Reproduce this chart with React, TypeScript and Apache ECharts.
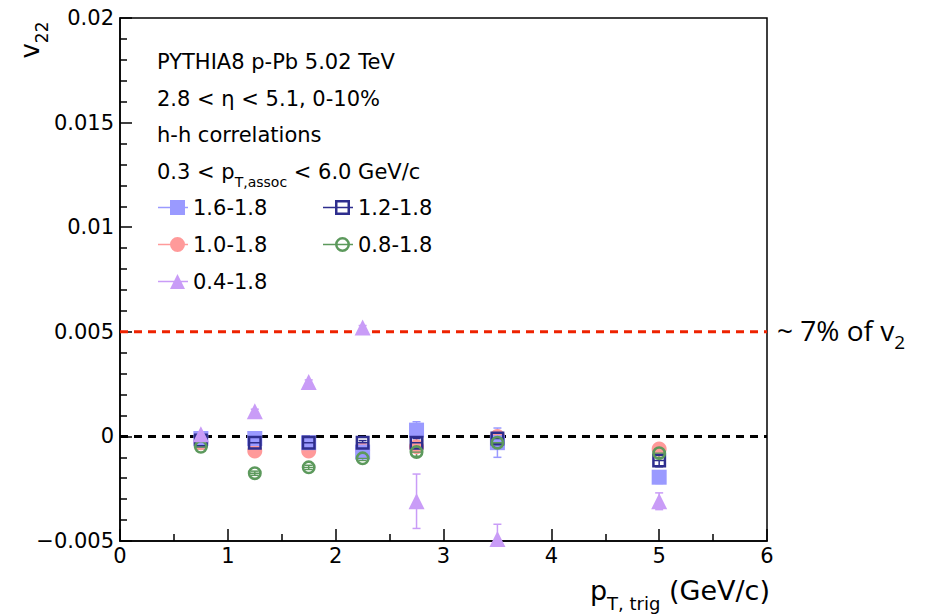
import React, { useEffect, useRef } from "react";
import * as echarts from "echarts";

// ---- data ----
const xPoints = [0.75, 1.25, 1.75, 2.25, 2.75, 3.5, 5.0];
const names = ["1.6-1.8", "1.2-1.8", "1.0-1.8", "0.8-1.8", "0.4-1.8"];
const v16 = [-0.0001, -0.0001, -0.0003, -0.00075, 0.0003, -0.0003, -0.00195];
const e16 = [0.0001, 0.0001, 0.0001, 0.0002, 0.0004, 0.0007, 0.0003];
const v12 = [-0.0002, -0.0003, -0.0003, -0.0003, -0.0003, -0.0001, -0.00115];
const e12 = [0.0001, 0.0001, 0.0001, 0.0001, 0.0002, 0.0002, 0.0003];
const v10 = [-0.0003, -0.0007, -0.0007, -0.00065, -0.0005, 0.0, -0.0006];
const e10 = [0.0001, 0.0001, 0.0001, 0.0001, 0.0002, 0.0002, 0.0002];
const v08 = [-0.0005, -0.00176, -0.00148, -0.00105, -0.00075, -0.0003, -0.0008];
const e08 = [0.0001, 0.0001, 0.0001, 0.0001, 0.0002, 0.0002, 0.0002];
const v04 = [0.0001, 0.0012, 0.0026, 0.0052, -0.0031, -0.0049, -0.0031];
const e04 = [0.0001, 0.0001, 0.0001, 0.0001, 0.0013, 0.0007, 0.0004];
const refLineHigh = 0.005;
const refLineZero = 0;
const xTicks = [0, 1, 2, 3, 4, 5, 6];

const FONT = "DejaVu Sans";

const colors: Record<string, string> = {
  "1.6-1.8": "#9a9aff",
  "1.2-1.8": "#2e2e8e",
  "1.0-1.8": "#ff9a9a",
  "0.8-1.8": "#5c995c",
  "0.4-1.8": "#c99cf7",
};

const symOpenSquare =
  "path://M0,0L14,0L14,14L0,14Z M2.5,2.5L2.5,11.5L11.5,11.5L11.5,2.5Z M2.5,6.3L11.5,6.3L11.5,7.7L2.5,7.7Z";
const symRing =
  "path://M0,7A7,7 0 1,1 14,7A7,7 0 1,1 0,7Z M2.6,7A4.4,4.4 0 1,0 11.4,7A4.4,4.4 0 1,0 2.6,7Z M2.6,6.3L11.4,6.3L11.4,7.7L2.6,7.7Z";

const LINE = "M0,6.75L30,6.75L30,8.25L0,8.25Z";
const legendIcons: Record<string, string> = {
  "1.6-1.8": "path://" + LINE + " M12,0L27,0L27,15L12,15Z",
  "1.2-1.8": "path://" + LINE + " M12,0L27,0L27,15L12,15Z M14.5,2.5L14.5,12.5L24.5,12.5L24.5,2.5Z",
  "1.0-1.8": "path://" + LINE + " M12,7.5A7.5,7.5 0 1,1 27,7.5A7.5,7.5 0 1,1 12,7.5Z",
  "0.8-1.8":
    "path://" + LINE + " M12,7.5A7.5,7.5 0 1,1 27,7.5A7.5,7.5 0 1,1 12,7.5Z M14.5,7.5A5,5 0 1,0 24.5,7.5A5,5 0 1,0 14.5,7.5Z",
  "0.4-1.8": "path://" + LINE + " M19.5,0L27,15L12,15Z",
};

const seriesDefs = [
  { name: "1.0-1.8", v: v10, e: e10, symbol: "circle", size: 15 },
  { name: "1.6-1.8", v: v16, e: e16, symbol: "rect", size: 15 },
  { name: "1.2-1.8", v: v12, e: e12, symbol: symOpenSquare, size: 14 },
  { name: "0.8-1.8", v: v08, e: e08, symbol: symRing, size: 14 },
  { name: "0.4-1.8", v: v04, e: e04, symbol: "triangle", size: 16 },
];

const fmtY = (v: number) => {
  const r = Number(v.toFixed(4));
  if (r === 0) return "0";
  return r < 0 ? "\u2212" + String(Math.abs(r)) : String(r);
};

export default function App() {
  const ref = useRef<HTMLDivElement>(null);
  useEffect(() => {
    if (!ref.current) return;
    const chart = echarts.init(ref.current, undefined, { renderer: "svg" });

    const series: any[] = [
      {
        type: "line",
        name: "ref-high",
        data: [[xTicks[0], refLineHigh], [xTicks[xTicks.length - 1], refLineHigh]],
        symbol: "none",
        lineStyle: { color: "#ee2200", width: 3, type: [8, 6] },
        z: 1,
        silent: true,
      },
      {
        type: "line",
        name: "ref-zero",
        data: [[xTicks[0], refLineZero], [xTicks[xTicks.length - 1], refLineZero]],
        symbol: "none",
        lineStyle: { color: "#000", width: 3, type: [8, 6] },
        z: 1,
        silent: true,
      },
    ];

    seriesDefs.forEach((s) => {
      const c = colors[s.name];
      series.push({
        type: "custom",
        name: "err " + s.name,
        clip: true,
        z: 2,
        silent: true,
        encode: { x: 0, y: [1, 2] },
        data: xPoints.map((x, i) => [x, s.v[i] - s.e[i], s.v[i] + s.e[i]]),
        renderItem: (params: any, api: any) => {
          const x = api.value(0);
          const lo = api.coord([x, api.value(1)]);
          const hi = api.coord([x, api.value(2)]);
          const cap = 4;
          const st = { stroke: c, lineWidth: 1.5 };
          return {
            type: "group",
            children: [
              { type: "line", shape: { x1: lo[0], y1: lo[1], x2: hi[0], y2: hi[1] }, style: st },
              { type: "line", shape: { x1: lo[0] - cap, y1: lo[1], x2: lo[0] + cap, y2: lo[1] }, style: st },
              { type: "line", shape: { x1: hi[0] - cap, y1: hi[1], x2: hi[0] + cap, y2: hi[1] }, style: st },
            ],
          };
        },
      });
    });

    seriesDefs.forEach((s, k) => {
      series.push({
        type: "scatter",
        name: s.name,
        symbol: s.symbol,
        symbolSize: s.size,
        itemStyle: { color: colors[s.name], opacity: 1 },
        z: 3 + k,
        data: xPoints.map((x, i) => [x, s.v[i]]),
      });
    });

    const legendCommon = {
      orient: "vertical",
      padding: 0,
      itemWidth: 30,
      itemHeight: 15,
      itemGap: 14,
      selectedMode: false,
      textStyle: { fontFamily: FONT, fontSize: 21, color: "#000", lineHeight: 23 },
    };

    const headerStyle = { fontFamily: FONT, fontSize: 21, fill: "#000" };

    chart.setOption({
      animation: false,
      backgroundColor: "#fff",
      grid: {
        left: 120,
        right: 161,
        top: 18,
        bottom: 75,
        show: true,
        borderColor: "#000",
        borderWidth: 1.5,
        backgroundColor: "transparent",
      },
      xAxis: {
        type: "value",
        min: xTicks[0],
        max: xTicks[xTicks.length - 1],
        interval: 1,
        axisLine: { onZero: false, lineStyle: { color: "#000", width: 1.5 } },
        axisTick: { inside: true, length: 12, lineStyle: { color: "#000", width: 1.5 } },
        minorTick: { show: true, splitNumber: 2, length: 7, lineStyle: { color: "#000", width: 1.5 } },
        splitLine: { show: false },
        axisLabel: { fontFamily: FONT, fontSize: 21, color: "#000", margin: 4 },
      },
      yAxis: {
        type: "value",
        min: -0.005,
        max: 0.02,
        interval: 0.005,
        axisLine: { onZero: false, lineStyle: { color: "#000", width: 1.5 } },
        axisTick: { inside: true, length: 12, lineStyle: { color: "#000", width: 1.5 } },
        minorTick: { show: true, splitNumber: 5, length: 7, lineStyle: { color: "#000", width: 1.5 } },
        splitLine: { show: false },
        axisLabel: { fontFamily: FONT, fontSize: 21, color: "#000", margin: 6, formatter: fmtY },
      },
      legend: [
        {
          ...legendCommon,
          left: 158,
          top: 196,
          data: [names[0], names[2], names[4]].map((n) => ({ name: n, icon: legendIcons[n] })),
        },
        {
          ...legendCommon,
          left: 323,
          top: 196,
          data: [names[1], names[3]].map((n) => ({ name: n, icon: legendIcons[n] })),
        },
      ],
      graphic: [
        {
          type: "text",
          x: 157,
          y: 62,
          style: { ...headerStyle, text: "PYTHIA8 p-Pb 5.02 TeV", verticalAlign: "middle" },
        },
        {
          type: "text",
          x: 157,
          y: 99,
          style: { ...headerStyle, text: "2.8 < \u03b7 < 5.1, 0-10%", verticalAlign: "middle" },
        },
        {
          type: "text",
          x: 157,
          y: 135,
          style: { ...headerStyle, text: "h-h correlations", verticalAlign: "middle" },
        },
        {
          type: "text",
          x: 157,
          y: 172,
          style: {
            ...headerStyle,
            text: "0.3 < p{sub|T,assoc} < 6.0 GeV/c",
            verticalAlign: "middle",
            lineHeight: 34,
            rich: {
              sub: { fontFamily: FONT, fontSize: 14, lineHeight: 14, verticalAlign: "bottom", fill: "#000" },
            },
          },
        },
        {
          type: "text",
          x: 30,
          y: 40,
          rotation: Math.PI / 2,
          style: {
            fontFamily: FONT,
            fontSize: 26,
            fill: "#000",
            text: "v{sub|22}",
            align: "center",
            verticalAlign: "middle",
            lineHeight: 40,
            rich: {
              sub: { fontFamily: FONT, fontSize: 17, lineHeight: 17, verticalAlign: "bottom", fill: "#000" },
            },
          },
        },
        {
          type: "text",
          x: 770,
          y: 590,
          style: {
            fontFamily: FONT,
            fontSize: 27,
            fill: "#000",
            text: "p{sub|T, trig} (GeV/c)",
            align: "right",
            verticalAlign: "middle",
            lineHeight: 44,
            rich: {
              sub: { fontFamily: FONT, fontSize: 18, lineHeight: 18, verticalAlign: "bottom", fill: "#000" },
            },
          },
        },
        {
          type: "text",
          x: 777,
          y: 330,
          style: {
            fontFamily: "Open Sans",
            fontSize: 28,
            fill: "#000",
            text: "~ 7% of v{sub|2}",
            verticalAlign: "middle",
            lineHeight: 42,
            rich: {
              sub: { fontFamily: "Open Sans", fontSize: 19, lineHeight: 19, verticalAlign: "bottom", fill: "#000" },
            },
          },
        },
      ],
      series,
    });
    return () => chart.dispose();
  }, []);
  return (
    <div
      ref={ref}
      style={{ position: "fixed", left: 0, top: 0, width: 928, height: 616, background: "#fff" }}
    />
  );
}
